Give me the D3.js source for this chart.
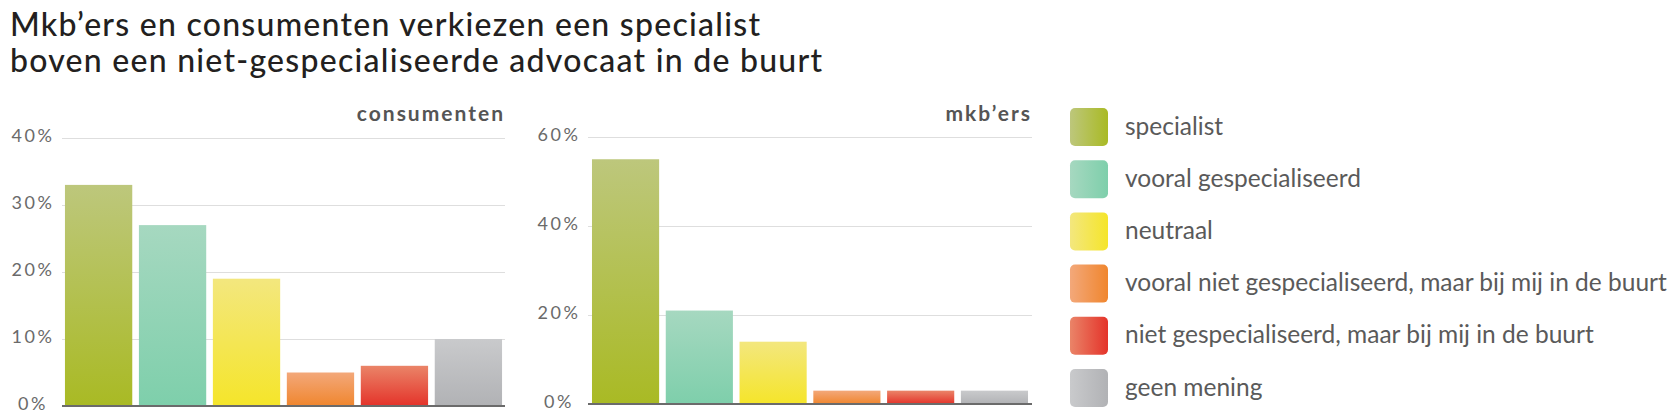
<!DOCTYPE html>
<html lang="nl">
<head>
<meta charset="utf-8">
<title>Specialist of advocaat in de buurt</title>
<script src="https://d3js.org/d3.v7.min.js"></script>
<style>
    body { margin: 0; background: #fff; }
    svg text { font-family: Lato, "Open Sans", sans-serif; }
    .title { font-size: 32px; font-weight: 500; fill: #231f20; }
    .panel-title { font-size: 21px; font-weight: 700; fill: #555; letter-spacing: 2px; }
    .axis text { font-size: 18px; font-weight: 400; fill: #6a6a6a; letter-spacing: 2.5px; }
    .axis line { stroke: #dedede; }
    .axis .domain { display: none; }
    .legend text { font-size: 24.5px; fill: #5a5a5a; }
</style>
</head>
<body>
<div id="chart"></div>
<script>
    "use strict"

    // data
    var titleLines = ["Mkb\u2019ers en consumenten verkiezen een specialist",
                      "boven een niet-gespecialiseerde advocaat in de buurt"];
    var categories = ["specialist", "vooral gespecialiseerd", "neutraal",
                      "vooral niet gespecialiseerd, maar bij mij in de buurt",
                      "niet gespecialiseerd, maar bij mij in de buurt", "geen mening"];
    var consumenten = [33, 27, 19, 5, 6, 10];
    var mkbers = [55, 21, 14, 3, 3, 3];
    var consumentenTicks = [0, 10, 20, 30, 40];
    var mkbersTicks = [0, 20, 40, 60];
    // light / saturated end of each gradient
    var lightColors = ["#bdc77c", "#a6d8c0", "#f3e77e", "#f3a87a", "#ea8468", "#c9cacc"];
    var darkColors  = ["#a9ba24", "#7ecfab", "#f5e52a", "#f0862e", "#e4332a", "#b1b2b5"];

    var svg = d3.select("#chart").append("svg")
        .attr("width", 1680)
        .attr("height", 416);

    var defs = svg.append("defs");
    categories.forEach(function (c, i) {
        var v = defs.append("linearGradient")
            .attr("id", "gv" + i).attr("x1", 0).attr("y1", 0).attr("x2", 0).attr("y2", 1);
        v.append("stop").attr("offset", "0%").attr("stop-color", lightColors[i]);
        v.append("stop").attr("offset", "100%").attr("stop-color", darkColors[i]);
        var h = defs.append("linearGradient")
            .attr("id", "gh" + i).attr("x1", 0).attr("y1", 0).attr("x2", 1).attr("y2", 0);
        h.append("stop").attr("offset", "0%").attr("stop-color", lightColors[i]);
        h.append("stop").attr("offset", "100%").attr("stop-color", darkColors[i]);
    });

    // the original face is wider than Lato, so stretch the spacing to its width
    var titleWidths = [750, 812];
    svg.append("g").selectAll("text")
        .data(titleLines)
        .enter().append("text")
        .attr("class", "title")
        .attr("x", 10)
        .attr("y", (d, i) => 36 + i * 36)
        .attr("textLength", (d, i) => titleWidths[i])
        .attr("lengthAdjust", "spacing")
        .text(d => d);

    function panel(opts) {
        var x = d3.scaleBand()
            .domain(categories)
            .range([opts.x0, opts.x1])
            .paddingInner(0.09)
            .paddingOuter(opts.outer);

        var y = d3.scaleLinear()
            .domain([0, d3.max(opts.ticks)])
            .range([opts.y0, opts.y1]);

        var g = svg.append("g");

        var axis = g.append("g")
            .attr("class", "axis")
            .attr("transform", "translate(" + opts.x0 + ",0)")
            .call(d3.axisLeft(y)
                .tickValues(opts.ticks)
                .tickFormat(d => d + "%")
                .tickSize(-(opts.x1 - opts.x0)));
        axis.selectAll(".tick text")
            .attr("text-anchor", "middle")
            .attr("x", opts.labelX - opts.x0)
            .attr("dy", "0.2em");

        g.selectAll("rect")
            .data(opts.values)
            .enter().append("rect")
            .attr("x", (d, i) => x(categories[i]))
            .attr("y", d => y(d))
            .attr("width", x.bandwidth())
            .attr("height", d => y(0) - y(d))
            .attr("fill", (d, i) => "url(#gv" + i + ")");

        g.append("line")
            .attr("x1", opts.x0).attr("x2", opts.x1)
            .attr("y1", y(0)).attr("y2", y(0))
            .attr("stroke", "#6b6b6b")
            .attr("stroke-width", 2);

        g.append("text")
            .attr("class", "panel-title")
            .attr("text-anchor", "end")
            .attr("x", opts.x1)
            .attr("y", 121)
            .text(opts.name);
    }

    panel({ name: "consumenten", values: consumenten, ticks: consumentenTicks,
            x0: 62, x1: 505, y0: 406, y1: 138, labelX: 33, outer: 0.04 });
    panel({ name: "mkb\u2019ers", values: mkbers, ticks: mkbersTicks,
            x0: 588, x1: 1032, y0: 404, y1: 137, labelX: 559, outer: 0.054 });

    var legend = svg.append("g")
        .attr("class", "legend")
        .selectAll("g")
        .data(categories)
        .enter().append("g")
        .attr("transform", (d, i) => "translate(1070," + (108 + i * 52.2) + ")");

    legend.append("rect")
        .attr("width", 38)
        .attr("height", 38)
        .attr("rx", 5)
        .attr("fill", (d, i) => "url(#gh" + i + ")");

    legend.append("text")
        .attr("x", 55)
        .attr("y", 26.5)
        .text(d => d);
</script>
</body>
</html>
